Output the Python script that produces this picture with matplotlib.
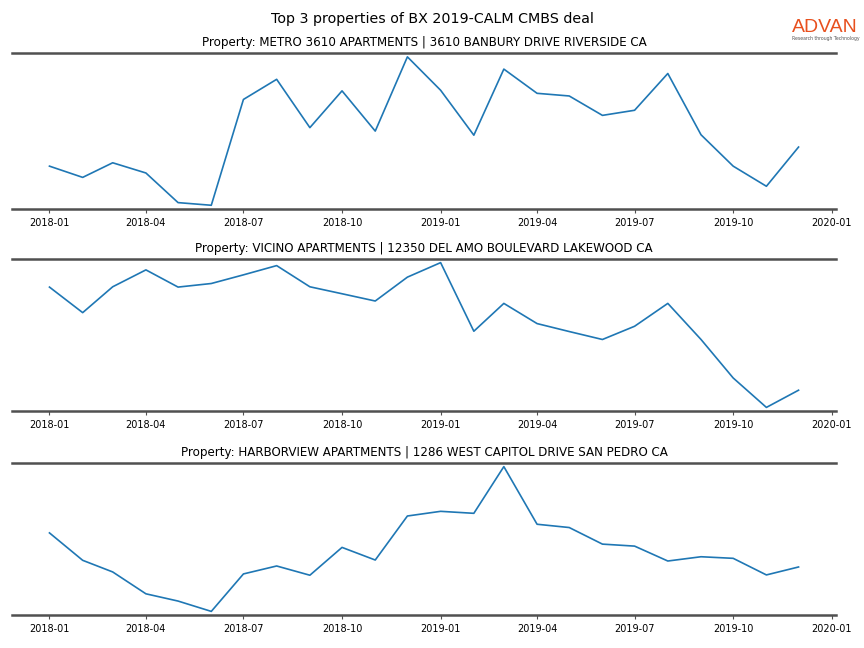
import pandas as pd
import matplotlib.pyplot as plt
import matplotlib.dates as mdates

# monthly values (y axis has no labels, units arbitrary)
months = pd.date_range("2018-01-01", "2019-12-01", freq="MS")

titles = [
    "Property: METRO 3610 APARTMENTS | 3610 BANBURY DRIVE RIVERSIDE CA",
    "Property: VICINO APARTMENTS | 12350 DEL AMO BOULEVARD LAKEWOOD CA",
    "Property: HARBORVIEW APARTMENTS | 1286 WEST CAPITOL DRIVE SAN PEDRO CA",
]

metro = [54, 43, 57.3, 47.3, 18.3, 15.7, 119.3, 139, 91.7, 127.7, 88.3, 161,
         128.3, 84.3, 149, 125.3, 122.7, 103.7, 108.7, 144.7, 84.7, 54, 34.3, 72.7]
vicino = [132.7, 107, 133, 150, 132.7, 136.3, 145, 154.3, 133, 126, 118.7, 142.7,
          157.3, 88.3, 116.3, 96, 88, 80, 93.3, 116.3, 80, 41.3, 11.7, 29]
harborview = [86.3, 58.7, 47, 25, 17.7, 7.3, 45, 53, 43.7, 71.7, 59, 103.3,
              108, 106, 153, 95, 91.7, 75, 73, 58, 62.3, 60.7, 44, 52]

series = [metro, vicino, harborview]

fig = plt.figure(figsize=(8.64, 6.48), dpi=100)
fig.suptitle("Top 3 properties of BX 2019-CALM CMBS deal", fontsize=10.3, y=0.982)

# axes boxes [left, bottom, width, height] in figure fraction
boxes = [
    [0.0139, 0.6775, 0.9537, 0.2405],
    [0.0139, 0.3657, 0.9537, 0.2346],
    [0.0139, 0.0509, 0.9537, 0.2346],
]

for box, title, vals in zip(boxes, titles, series):
    ax = fig.add_axes(box)
    ax.plot(months, vals, color="tab:blue", linewidth=1.2)
    ax.margins(y=0.025)
    ax.set_title(title, fontsize=8.6, pad=5)
    ax.set_yticks([])
    for side in ["left", "right"]:
        ax.spines[side].set_visible(False)
    for side in ["top", "bottom"]:
        ax.spines[side].set_color("#505050")
        ax.spines[side].set_linewidth(1.8)
    ax.set_xticks(pd.date_range("2018-01-01", "2020-01-01", freq="3MS"))
    ax.xaxis.set_major_formatter(mdates.DateFormatter("%Y-%m"))
    ax.tick_params(axis="x", labelsize=7, length=3, color="#505050")

# logo
fig.text(0.9165, 0.958, "ADVAN", color="#E8501E", fontsize=14,
         ha="left", va="center", family="Liberation Sans", fontweight="medium")
fig.text(0.9165, 0.941, "Research through Technology", color="#555555",
         fontsize=3.3, ha="left", va="center")

fig.savefig("out.png", dpi=100)
